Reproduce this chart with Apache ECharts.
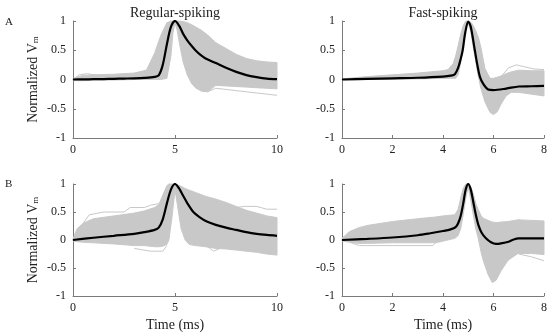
<!DOCTYPE html>
<html><head><meta charset="utf-8">
<script src="https://cdn.jsdelivr.net/npm/echarts@6/dist/echarts.min.js"></script>
<style>html,body{margin:0;padding:0;background:#fff}#c{width:550px;height:333px}</style>
</head><body><div id="c"></div>
<script>
// ---------- Data ----------
const panelTitles = ['Regular-spiking', 'Fast-spiking'];
const rowLabels = ['A', 'B'];
const yTicks = [-1, -0.5, 0, 0.5, 1];
const xTicksRS = [0, 5, 10];
const xTicksFS = [0, 2, 4, 6, 8];

// Panel A, regular-spiking
const aRsT     = [0,0.5,1,2,3,3.6,4,4.3,4.6,4.8,4.9,5,5.1,5.2,5.4,5.6,5.8,6,6.3,6.6,7,7.5,8,8.5,9,9.5,10];
const aRsUpper = [0.02,0.07,0.08,0.09,0.11,0.16,0.45,0.75,0.97,1.0,1.0,1.0,1.0,1.0,0.99,0.97,0.94,0.9,0.84,0.76,0.63,0.53,0.43,0.36,0.32,0.3,0.29];
const aRsLower = [-0.02,-0.02,-0.01,-0.01,0,0,0,0,0.02,0.4,0.8,0.97,0.85,0.65,0.3,0.08,-0.06,-0.14,-0.2,-0.21,-0.1,-0.11,-0.12,-0.13,-0.14,-0.15,-0.16];
const aRsMeanT = [0,0.5,1,1.5,2,2.5,3,3.5,4,4.2,4.4,4.6,4.8,5,5.2,5.4,5.6,5.8,6,6.25,6.5,7,7.5,8,8.5,9,9.5,10];
const aRsMean  = [0,0.002,0.005,0.008,0.012,0.016,0.02,0.028,0.045,0.07,0.25,0.6,0.9,1,0.92,0.78,0.67,0.58,0.5,0.42,0.36,0.28,0.2,0.13,0.075,0.04,0.015,0.005];
const aRsExtra = [
  [[6.6,-0.21],[7,-0.15],[7.5,-0.17],[8,-0.19],[8.5,-0.21],[9,-0.23],[9.5,-0.25],[10,-0.27]],
  [[0,0],[0.3,0.08],[0.7,0.1],[1.2,0.07]]
];

// Panel A, fast-spiking
const aFsT     = [0,1,2,3,4,4.2,4.4,4.5,4.6,4.7,4.8,4.9,5,5.1,5.2,5.3,5.4,5.5,5.66,5.86,6,6.15,6.3,6.5,6.7,7,7.5,8];
const aFsUpper = [0.01,0.05,0.08,0.11,0.15,0.17,0.27,0.4,0.58,0.77,0.92,1,1,0.98,0.92,0.83,0.72,0.55,0.19,0.02,0.02,0.04,0.06,0.1,0.13,0.16,0.15,0.15];
const aFsLower = [-0.01,0,0.005,0.01,0.02,0.02,0.02,0.02,0.08,0.3,0.6,0.85,0.97,0.82,0.55,0.3,0.05,-0.15,-0.38,-0.56,-0.6,-0.55,-0.42,-0.28,-0.22,-0.22,-0.25,-0.28];
const aFsMeanT = [0,1,2,3,4,4.3,4.47,4.6,4.7,4.78,4.88,5,5.1,5.26,5.36,5.46,5.6,5.79,6,6.5,7,7.5,8];
const aFsMean  = [0,0.01,0.02,0.03,0.05,0.065,0.09,0.2,0.35,0.5,0.8,0.99,0.9,0.5,0.25,0.05,-0.08,-0.17,-0.18,-0.155,-0.12,-0.115,-0.11];
const aFsExtra = [
  [[6.3,0.05],[6.6,0.2],[6.9,0.25],[7.2,0.22],[7.6,0.18],[8,0.17]]
];

// Panel B, regular-spiking
const bRsT     = [0,0.2,0.5,1,2,3,3.5,4,4.2,4.4,4.6,4.7,4.85,5,5.15,5.3,5.5,5.7,6,6.5,7,7.5,8,8.5,9,9.5,10];
const bRsUpper = [0.02,0.2,0.3,0.38,0.43,0.48,0.52,0.58,0.63,0.8,0.97,1,1,1,0.98,0.96,0.92,0.89,0.85,0.78,0.73,0.67,0.6,0.53,0.48,0.43,0.4];
const bRsLower = [-0.02,-0.03,-0.04,-0.05,-0.07,-0.1,-0.1,-0.12,-0.12,-0.11,-0.08,0,0.4,0.9,0.55,0.2,0,-0.08,-0.1,-0.12,-0.15,-0.16,-0.18,-0.2,-0.22,-0.25,-0.27];
const bRsMeanT = [0,1,2,3,3.5,4,4.2,4.4,4.6,4.8,5,5.2,5.4,5.6,5.9,6.2,6.56,7,7.5,8,8.5,9,9.5,10];
const bRsMean  = [0,0.04,0.075,0.11,0.14,0.18,0.22,0.37,0.65,0.9,1,0.92,0.79,0.66,0.5,0.41,0.33,0.27,0.22,0.18,0.14,0.11,0.09,0.075];
const bRsExtra = [
  [[0.5,0.3],[0.8,0.45],[1.5,0.5],[2.5,0.5],[2.8,0.58],[3.5,0.58],[3.8,0.62],[4.2,0.65]],
  [[8,0.58],[8.4,0.6],[9,0.6],[9.5,0.55],[10,0.55]],
  [[3,-0.15],[3.8,-0.2],[4.4,-0.2],[4.6,-0.1]],
  [[6.6,-0.12],[6.9,-0.2],[7.2,-0.15]]
];

// Panel B, fast-spiking
const bFsT     = [0,0.3,0.66,1,2,3,3.7,4,4.47,4.6,4.7,4.8,4.9,5,5.1,5.2,5.3,5.39,5.5,5.59,5.79,5.95,6.1,6.3,6.58,6.97,7.5,8];
const bFsUpper = [0.03,0.15,0.22,0.26,0.33,0.38,0.41,0.43,0.45,0.55,0.75,0.92,1,1,0.95,0.82,0.65,0.55,0.44,0.39,0.35,0.32,0.31,0.32,0.33,0.36,0.35,0.34];
const bFsLower = [-0.02,-0.04,-0.06,-0.06,-0.05,-0.05,-0.05,-0.02,0.03,0.08,0.2,0.45,0.75,0.95,0.72,0.45,0.2,0.04,-0.2,-0.36,-0.62,-0.76,-0.72,-0.55,-0.36,-0.24,-0.24,-0.26];
const bFsMeanT = [0,1,2,3,3.5,4,4.3,4.5,4.6,4.7,4.8,4.9,5,5.1,5.2,5.3,5.4,5.53,5.7,5.9,6.1,6.3,6.6,6.8,7,8];
const bFsMean  = [0,0.02,0.045,0.085,0.12,0.16,0.19,0.23,0.3,0.43,0.65,0.9,1,0.9,0.68,0.45,0.27,0.13,0.03,-0.04,-0.07,-0.06,-0.03,0.01,0.03,0.03];
const bFsExtra = [
  [[0.3,-0.04],[0.7,-0.1],[2,-0.1],[3.6,-0.1],[3.7,-0.05]],
  [[7,-0.25],[7.5,-0.3],[8,-0.37]]
];

// ---------- Chart ----------
const FONT = 'Liberation Serif';
const GRAY = '#c8c8c8';
const AXC = '#7a7a7a';

const panels = [
  {t:aRsT, up:aRsUpper, lo:aRsLower, mt:aRsMeanT, m:aRsMean, ex:aRsExtra, ticks:xTicksRS, grid:{left:73, top:21, width:204, height:117}, yName:true, xName:false},
  {t:aFsT, up:aFsUpper, lo:aFsLower, mt:aFsMeanT, m:aFsMean, ex:aFsExtra, ticks:xTicksFS, grid:{left:342, top:21, width:202, height:117}, yName:false, xName:false},
  {t:bRsT, up:bRsUpper, lo:bRsLower, mt:bRsMeanT, m:bRsMean, ex:bRsExtra, ticks:xTicksRS, grid:{left:73, top:184, width:204, height:117}, yName:true, xName:true},
  {t:bFsT, up:bFsUpper, lo:bFsLower, mt:bFsMeanT, m:bFsMean, ex:bFsExtra, ticks:xTicksFS, grid:{left:342, top:184, width:202, height:117}, yName:false, xName:true}
];

function bandRenderer(t, up, lo) {
  return function (params, api) {
    if (params.dataIndex !== 0) return null;
    const pts = [];
    for (let i = 0; i < t.length; i++) pts.push(api.coord([t[i], up[i]]));
    for (let i = t.length - 1; i >= 0; i--) pts.push(api.coord([t[i], lo[i]]));
    return {type: 'polygon', shape: {points: pts}, style: {fill: GRAY, stroke: GRAY, lineWidth: 1}};
  };
}

const grids = [], xAxes = [], yAxes = [], series = [];
panels.forEach((p, k) => {
  grids.push(p.grid);
  const tk = p.ticks;
  xAxes.push({
    type: 'value', gridIndex: k, min: tk[0], max: tk[tk.length - 1], interval: tk[1] - tk[0],
    axisLine: {onZero: false, lineStyle: {color: AXC, width: 1}},
    axisTick: {inside: true, length: 3, lineStyle: {color: AXC}},
    axisLabel: {color: '#222', fontFamily: FONT, fontSize: 12, margin: 6},
    splitLine: {show: false},
    name: p.xName ? 'Time (ms)' : '', nameLocation: 'middle', nameGap: 22,
    nameTextStyle: {color: '#222', fontFamily: FONT, fontSize: 14}
  });
  yAxes.push({
    type: 'value', gridIndex: k, min: yTicks[0], max: yTicks[yTicks.length - 1], interval: 0.5,
    axisLine: {show: true, onZero: false, lineStyle: {color: AXC, width: 1}},
    axisTick: {show: true, inside: true, length: 3, lineStyle: {color: AXC}},
    axisLabel: {color: '#222', fontFamily: FONT, fontSize: 12, margin: 7},
    splitLine: {show: false},
    name: p.yName ? '{a|Normalized V}{b|m}' : '', nameLocation: 'middle', nameGap: 33, nameRotate: 90,
    nameTextStyle: {
      color: '#222', fontFamily: FONT, fontSize: 14,
      rich: {a: {fontFamily: FONT, fontSize: 14, color: '#222', verticalAlign: 'bottom', lineHeight: 18},
             b: {fontFamily: FONT, fontSize: 9, color: '#222', verticalAlign: 'bottom', lineHeight: 14}}
    }
  });
  p.ex.forEach(line => {
    series.push({type: 'line', xAxisIndex: k, yAxisIndex: k, data: line, symbol: 'none', silent: true,
      lineStyle: {color: GRAY, width: 1}, z: 1});
  });
  series.push({type: 'custom', xAxisIndex: k, yAxisIndex: k, silent: true, z: 2,
    data: p.t.map((x, i) => [x, p.up[i], p.lo[i]]),
    encode: {x: 0, y: [1, 2]},
    renderItem: bandRenderer(p.t, p.up, p.lo)});
  series.push({type: 'line', xAxisIndex: k, yAxisIndex: k, symbol: 'none', silent: true, z: 3,
    smooth: 0.3,
    data: p.mt.map((x, i) => [x, p.m[i]]),
    lineStyle: {color: '#000', width: 2.2}});
});

const graphics = [
  {type: 'text', left: 0, x: 175, y: 6, style: {text: panelTitles[0], font: '14px "' + FONT + '"', fill: '#222', align: 'center', verticalAlign: 'top'}},
  {type: 'text', x: 443, y: 6, style: {text: panelTitles[1], font: '14px "' + FONT + '"', fill: '#222', align: 'center', verticalAlign: 'top'}},
  {type: 'text', x: 5, y: 17, style: {text: rowLabels[0], font: '11px "' + FONT + '"', fill: '#222'}},
  {type: 'text', x: 5, y: 179, style: {text: rowLabels[1], font: '11px "' + FONT + '"', fill: '#222'}}
];
delete graphics[0].left;

const chart = echarts.init(document.getElementById('c'), null, {renderer: 'canvas'});
chart.setOption({
  animation: false,
  backgroundColor: '#fff',
  grid: grids, xAxis: xAxes, yAxis: yAxes, series: series,
  graphic: graphics
});
</script></body></html>
